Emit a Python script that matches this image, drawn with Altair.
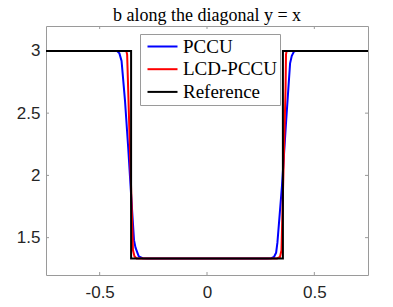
import altair as alt
import pandas as pd

# ---- data ----
x_ticks = [-0.5, 0, 0.5]
y_ticks = [1.5, 2, 2.5, 3]

series_names = ["PCCU", "LCD-PCCU", "Reference"]
series_colors = ["#0000ff", "#ff0000", "#000000"]

pccu_x = [-0.75, -0.42, -0.408, -0.398, -0.382, -0.367, -0.353, -0.340, -0.333, -0.318, -0.300, -0.28,
          0.28, 0.300, 0.312, 0.322, 0.328, 0.349, 0.368, 0.387, 0.395, 0.405, 0.415, 0.75]
pccu_y = [3.0, 3.0, 2.98, 2.92, 2.60, 2.22, 1.83, 1.48, 1.42, 1.35, 1.335, 1.3333,
          1.3333, 1.335, 1.345, 1.38, 1.46, 1.91, 2.42, 2.90, 2.96, 2.995, 3.0, 3.0]

lcd_x = [-0.75, -0.376, -0.372, -0.345, -0.338, -0.328,
         0.326, 0.340, 0.347, 0.366, 0.368, 0.371, 0.75]
lcd_y = [3.0, 3.0, 2.97, 1.40, 1.35, 1.3333,
         1.3333, 1.345, 1.40, 2.70, 2.97, 3.0, 3.0]

ref_x = [-0.75, -0.3536, -0.3536, 0.3536, 0.3536, 0.75]
ref_y = [3.0, 3.0, 1.3333, 1.3333, 3.0, 3.0]

title_text = ["b along the diagonal y = x"]

W, H = 322, 249
FRAME = "#9a9a9a"


def frame(xs, ys, name):
    return pd.DataFrame({"x": xs, "y": ys, "series": name, "i": range(len(xs))})


xs = alt.Scale(domain=[-0.75, 0.75], nice=False, zero=False)
ys = alt.Scale(domain=[1.2, 3.2], nice=False, zero=False)

xaxis = alt.Axis(values=x_ticks, labelExpr="'' + datum.value", domain=False, ticks=False,
                 grid=False, title=None, labelFont="Liberation Sans", labelFontSize=17,
                 labelColor="#262626", labelPadding=9)
yaxis = alt.Axis(values=y_ticks, labelExpr="'' + datum.value", domain=False, ticks=False,
                 grid=False, title=None, labelFont="Liberation Sans", labelFontSize=17,
                 labelColor="#262626", labelPadding=6)

X = alt.X("x:Q", scale=xs, axis=xaxis)
Y = alt.Y("y:Q", scale=ys, axis=yaxis)

legend = alt.Legend(
    title=None, orient="none", legendX=94, legendY=8,
    symbolType="M-1,0H5", symbolSize=100, symbolStrokeWidth=2,
    labelFont="Liberation Serif", labelFontSize=19, labelColor="black",
    labelOffset=21, padding=3, rowPadding=2.7,
    strokeColor=FRAME, fillColor="white", cornerRadius=0, labelLimit=0,
)
C = alt.Color("series:N", scale=alt.Scale(domain=series_names, range=series_colors),
              legend=legend)


def line(df):
    return alt.Chart(df).mark_line(strokeWidth=2).encode(
        x=X, y=Y, color=C, order=alt.Order("i:Q"))


blue = line(frame(pccu_x, pccu_y, "PCCU"))
red = line(frame(lcd_x, lcd_y, "LCD-PCCU"))
black = line(frame(ref_x, ref_y, "Reference"))

xt = pd.DataFrame({"x": x_ticks})
yt = pd.DataFrame({"y": y_ticks})
tick_top = alt.Chart(xt).mark_rule(color=FRAME, strokeWidth=1).encode(
    x=X, y=alt.value(0), y2=alt.value(3))
tick_bot = alt.Chart(xt).mark_rule(color=FRAME, strokeWidth=1).encode(
    x=X, y=alt.value(H - 3), y2=alt.value(H))
tick_left = alt.Chart(yt).mark_rule(color=FRAME, strokeWidth=1).encode(
    y=Y, x=alt.value(0), x2=alt.value(3))
tick_right = alt.Chart(yt).mark_rule(color=FRAME, strokeWidth=1).encode(
    y=Y, x=alt.value(W - 3), x2=alt.value(W))

# chart title, drawn as a text mark above the plot area
title = alt.Chart(pd.DataFrame({"t": title_text})).mark_text(
    font="Liberation Serif", fontSize=18, color="black", align="center",
    baseline="alphabetic",
).encode(text="t:N", x=alt.value(W / 2), y=alt.value(-5))

chart = (
    alt.layer(tick_top, tick_bot, tick_left, tick_right, blue, red, black, title)
    .properties(
        width=W, height=H,
        autosize=alt.AutoSizeParams(type="none"),
        padding={"left": 38, "top": 18, "right": 17, "bottom": 32},
    )
    .configure(background="white")
    .configure_view(stroke=FRAME, strokeWidth=1)
)

chart.save("out.html", embed_options={"renderer": "svg", "actions": False})
